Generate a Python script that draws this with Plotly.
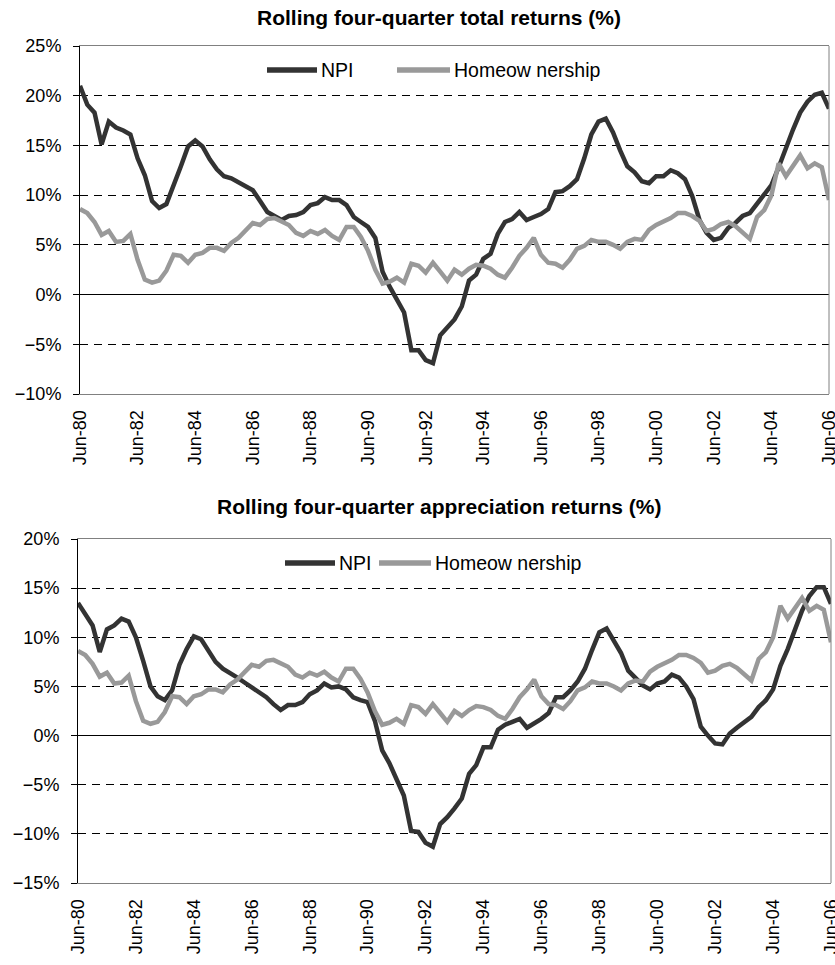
import plotly.graph_objects as go

# ---------------- data ----------------
month_cycle = ["Jun", "Sep", "Dec", "Mar"]
month_end = {"Jun": "06-30", "Sep": "09-30", "Dec": "12-31", "Mar": "03-31"}
quarters = [f"{month_cycle[i % 4]}-{(80 + (i + 1) // 4) % 100:02d}" for i in range(105)]
quarter_dates = [f"{1980 + (i + 1) // 4}-{month_end[month_cycle[i % 4]]}" for i in range(105)]

tick_labels = ["Jun-80", "Jun-82", "Jun-84", "Jun-86", "Jun-88", "Jun-90", "Jun-92",
               "Jun-94", "Jun-96", "Jun-98", "Jun-00", "Jun-02", "Jun-04", "Jun-06"]

npi_total = [
    21.0, 19.1, 18.3, 15.1, 17.4, 16.8, 16.5, 16.1,
    13.7, 12.0, 9.4, 8.7, 9.1, 10.9, 12.9, 14.9,
    15.5, 14.9, 13.6, 12.6, 11.9, 11.7, 11.3, 11.0,
    10.5, 9.4, 8.3, 7.9, 7.5, 7.9, 8.0, 8.3,
    9.0, 9.2, 9.8, 9.5, 9.5, 9.0, 7.8, 7.3,
    6.8, 5.7, 2.3, 0.8, -0.5, -1.8, -5.6, -5.6,
    -6.6, -6.9, -4.1, -3.3, -2.5, -1.2, 1.4, 2.0,
    3.6, 4.1, 6.1, 7.3, 7.6, 8.3, 7.5, 7.8,
    8.1, 8.6, 10.3, 10.4, 10.9, 11.6, 13.7, 16.1,
    17.4, 17.7, 16.3, 14.5, 12.9, 12.3, 11.4, 11.2,
    11.9, 11.9, 12.5, 12.2, 11.6, 9.9, 7.5, 6.2,
    5.5, 5.7, 6.7, 7.2, 7.9, 8.2, 9.1, 10.0,
    11.0, 12.8, 14.8, 16.6, 18.3, 19.4, 20.1, 20.3,
    18.7,
]

npi_appreciation = [
    13.5, 12.4, 11.2, 8.5, 10.8, 11.2, 11.9, 11.6,
    10.0, 7.6, 5.0, 4.0, 3.6, 4.6, 7.2, 8.8,
    10.1, 9.8, 8.6, 7.5, 6.8, 6.4, 5.9, 5.4,
    4.9, 4.4, 3.9, 3.2, 2.6, 3.1, 3.1, 3.4,
    4.2, 4.6, 5.3, 4.9, 5.0, 4.7, 3.9, 3.6,
    3.4, 1.5, -1.5, -2.8, -4.5, -6.1, -9.7, -9.8,
    -10.9, -11.3, -9.0, -8.3, -7.4, -6.4, -3.9, -3.0,
    -1.2, -1.2, 0.6, 1.1, 1.4, 1.7, 0.8, 1.2,
    1.7, 2.3, 3.9, 3.9, 4.6, 5.5, 6.8, 8.7,
    10.5, 10.9, 9.7, 8.4, 6.6, 5.9, 5.1, 4.7,
    5.3, 5.5, 6.2, 5.9, 5.0, 3.7, 0.9, 0.0,
    -0.8, -0.9, 0.2, 0.8, 1.4, 1.9, 2.9, 3.6,
    4.7, 7.1, 8.8, 10.6, 12.7, 14.2, 15.1, 15.1,
    13.4,
]

homeownership = [
    8.6, 8.2, 7.3, 6.0, 6.4, 5.3, 5.4, 6.1,
    3.5, 1.5, 1.2, 1.4, 2.4, 4.0, 3.9, 3.2,
    4.0, 4.2, 4.7, 4.7, 4.4, 5.2, 5.7, 6.4,
    7.2, 7.0, 7.6, 7.7, 7.4, 7.0, 6.2, 5.9,
    6.4, 6.1, 6.5, 5.9, 5.5, 6.8, 6.8, 5.8,
    4.4, 2.5, 1.1, 1.3, 1.7, 1.2, 3.1, 2.9,
    2.2, 3.2, 2.3, 1.4, 2.5, 2.0, 2.6, 3.0,
    2.9, 2.6, 2.0, 1.7, 2.7, 3.9, 4.7, 5.7,
    4.0, 3.2, 3.1, 2.7, 3.5, 4.6, 4.9, 5.5,
    5.3, 5.3, 5.0, 4.6, 5.3, 5.6, 5.5, 6.5,
    7.0, 7.3, 7.7, 8.2, 8.2, 7.9, 7.4, 6.4,
    6.6, 7.1, 7.3, 6.9, 6.3, 5.6, 7.8, 8.5,
    10.0, 13.2, 11.9, 13.0, 14.0, 12.7, 13.2, 12.8,
    9.5,
]

series_names = ["NPI", "Homeow nership"]
titles = ["Rolling four-quarter total returns (%)",
          "Rolling four-quarter appreciation returns (%)"]

# ---------------- styling / layout ----------------
W, H = 835, 965
NPI_COLOR = "#333333"
HOME_COLOR = "#999999"
FONT = "Liberation Sans, Arial, sans-serif"
TICK_SIZE = 18
LEG_SIZE = 19.5
TITLE_SIZE = 21


def fx(px):
    return px / W


def fy(py):
    return 1 - py / H


panels = [
    dict(x="x", y="y", xo="x3", xdom=[fx(80), fx(829)], ydom=[fy(394), fy(46)],
         yrange=[-10, 25], npi=npi_total, home=homeownership, title=titles[0],
         title_y=18, leg_y=70, leg_npi=(267, 317), leg_home=(397, 450)),
    dict(x="x2", y="y2", xo="x4", xdom=[fx(78), fx(831)], ydom=[fy(883), fy(539)],
         yrange=[-15, 20], npi=npi_appreciation, home=homeownership, title=titles[1],
         title_y=507, leg_y=563, leg_npi=(285, 335), leg_home=(379, 431)),
]

tick_dates = [quarter_dates[quarters.index(t)] for t in tick_labels]
x_range = [quarter_dates[0], quarter_dates[-1]]

fig = go.Figure()
shapes = []
annotations = []

for p in panels:
    for vals, color, name in [(p["npi"], NPI_COLOR, series_names[0]),
                              (p["home"], HOME_COLOR, series_names[1])]:
        fig.add_trace(go.Scatter(x=quarter_dates, y=vals, xaxis=p["x"], yaxis=p["y"],
                                 mode="lines", name=name, customdata=quarters,
                                 hovertemplate="%{customdata}: %{y:.1f}%<extra>" + name + "</extra>",
                                 line=dict(color=color, width=4.5)))

    xname = "xaxis" if p["x"] == "x" else "xaxis2"
    yname = "yaxis" if p["y"] == "y" else "yaxis2"
    xoname = "xaxis3" if p["xo"] == "x3" else "xaxis4"

    fig.layout[xname] = dict(
        domain=p["xdom"], anchor=p["y"], type="date", range=x_range,
        tickmode="array", tickvals=tick_dates, ticktext=tick_labels,
        tickangle=-90, ticks="", showgrid=False, zeroline=False,
        showline=True, linecolor="#808080", linewidth=1, mirror=True,
        ticklabelstandoff=8, ticklabeloverflow="allow", automargin=False,
        tickfont=dict(family=FONT, size=TICK_SIZE, color="black"),
    )
    fig.layout[yname] = dict(
        domain=p["ydom"], anchor=p["x"], range=p["yrange"],
        tickmode="linear", tick0=p["yrange"][0], dtick=5, ticksuffix="%",
        showgrid=True, gridcolor="black", gridwidth=1, griddash="8px,6px",
        zeroline=True, zerolinecolor="black", zerolinewidth=1,
        showline=True, linecolor="black", linewidth=1,
        ticks="outside", ticklen=6, tickcolor="black",
        ticklabelstandoff=8, automargin=False,
        tickfont=dict(family=FONT, size=TICK_SIZE, color="black"),
    )
    # tick marks along the 0% category axis
    y0, y1 = p["ydom"]
    r0, r1 = p["yrange"]
    zero_pos = y0 + (0 - r0) / (r1 - r0) * (y1 - y0)
    fig.layout[xoname] = dict(
        overlaying=p["x"], anchor="free", position=zero_pos, side="bottom",
        type="date", range=x_range, tickmode="array", tickvals=tick_dates,
        showticklabels=False, ticks="outside", ticklen=5, tickcolor="black",
        showgrid=False, zeroline=False, showline=False,
    )
    # right border of plot area (grey)
    shapes.append(dict(type="line", xref=f"{p['x']} domain", yref=f"{p['y']} domain",
                       x0=1, x1=1, y0=0, y1=1, line=dict(color="#808080", width=1)))
    # title
    annotations.append(dict(text=f"<b>{p['title']}</b>", xref="paper", yref="paper",
                            x=fx(439), y=fy(p["title_y"]), xanchor="center", yanchor="middle",
                            showarrow=False, font=dict(family=FONT, size=TITLE_SIZE, color="black")))
    # custom legend
    for (xa, xb), color, name in [(p["leg_npi"], NPI_COLOR, series_names[0]),
                                  (p["leg_home"], HOME_COLOR, series_names[1])]:
        shapes.append(dict(type="line", xref="paper", yref="paper",
                           x0=fx(xa), x1=fx(xb), y0=fy(p["leg_y"]), y1=fy(p["leg_y"]),
                           line=dict(color=color, width=5.5)))
        annotations.append(dict(text=name, xref="paper", yref="paper",
                                x=fx(xb + 2), y=fy(p["leg_y"]), xanchor="left", yanchor="middle",
                                showarrow=False,
                                font=dict(family=FONT, size=LEG_SIZE, color="black")))

fig.update_layout(
    width=W, height=H, margin=dict(l=0, r=0, t=0, b=0),
    paper_bgcolor="white", plot_bgcolor="white", showlegend=False,
    font=dict(family=FONT, size=TICK_SIZE, color="black"),
    shapes=shapes, annotations=annotations,
)

# remove the browser's default 8px page margin so the 835x965 figure fills the window
fig.write_html(
    "out.html",
    config={"displayModeBar": False},
    post_script="document.body.style.margin='0';document.body.style.overflow='hidden';",
)
